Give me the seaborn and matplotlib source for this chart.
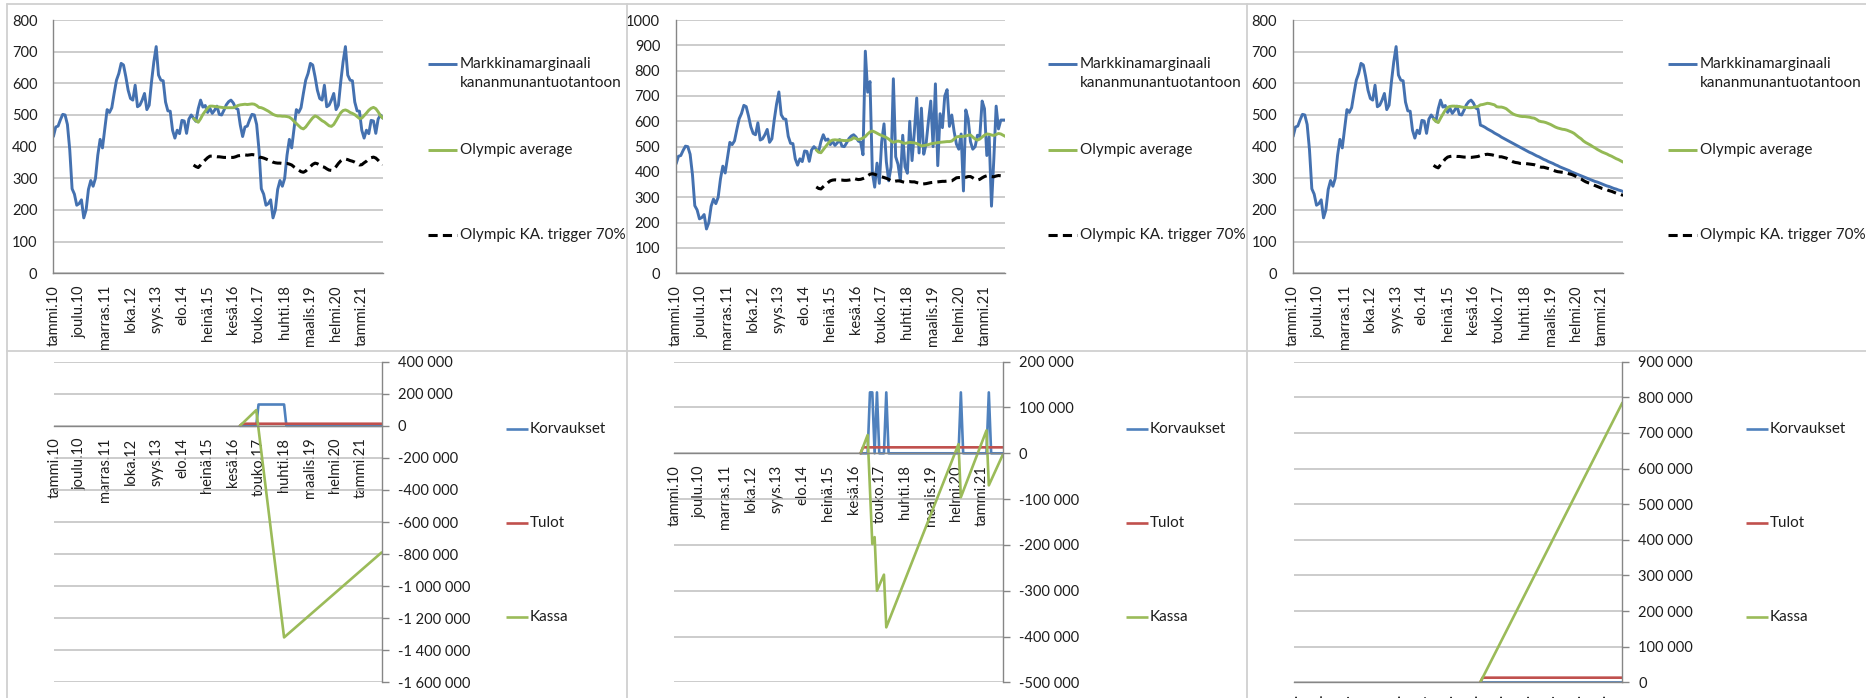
import numpy as np
import seaborn as sns
import matplotlib.pyplot as plt
from matplotlib.lines import Line2D
from matplotlib.ticker import FuncFormatter, MultipleLocator

# x-akseli: kuukaudet tammi.10 ... loka.21 (142 kk), nimiöt 11 kk välein
tick_pos = list(range(0, 133, 11))
tick_labels = ["tammi.10", "joulu.10", "marras.11", "loka.12", "syys.13", "elo.14", "heinä.15",
               "kesä.16", "touko.17", "huhti.18", "maalis.19", "helmi.20", "tammi.21"]
short_labels = ["t…", "j…", "m…", "l…", "s…", "e…", "h…", "k…", "t…", "h…", "m…", "h…", "t…"]

months = np.arange(142)
olymp_months = np.arange(60, 142)
fut_months = np.arange(80, 142)

# toteutunut markkinamarginaali tammi.10 - syys.16
hist = [432, 462, 465, 485, 502, 500, 470, 390, 267, 250,
        215, 220, 232, 175, 200, 265, 293, 275, 300, 373,
        423, 396, 457, 517, 508, 523, 568, 610, 631, 663,
        658, 621, 578, 552, 547, 594, 526, 531, 547, 568,
        517, 531, 605, 668, 716, 626, 610, 608, 541, 513,
        512, 452, 427, 452, 441, 483, 481, 442, 487, 500,
        490, 480, 520, 547, 525, 530, 508, 521, 505, 515,
        528, 502, 500, 515, 532, 542, 547, 538, 522, 518,
        468]

# skenaario 2: heiluva marginaali
volatile = [877, 715, 757, 400, 340, 435, 355, 520, 590, 440,
            365, 420, 768, 460, 430, 365, 545, 420, 395, 600,
            445, 560, 692, 475, 652, 470, 510, 600, 680, 500,
            748, 425, 630, 575, 700, 725, 580, 625, 560, 510,
            490, 550, 325, 645, 610, 520, 490, 500, 545, 540,
            680, 650, 465, 540, 265, 450, 660, 570, 605, 605,
            605]

# skenaario 3: laskeva marginaali
declining = [465, 461, 456, 452, 448, 443, 439, 435, 430, 426,
             422, 418, 414, 410, 406, 402, 398, 394, 390, 386,
             382, 379, 375, 371, 368, 364, 360, 357, 353, 350,
             347, 343, 340, 336, 333, 330, 327, 324, 320, 317,
             314, 311, 308, 305, 302, 299, 296, 293, 290, 288,
             285, 282, 279, 276, 274, 271, 268, 266, 263, 261,
             258]

marg1 = hist + hist[:61]
marg2 = hist + volatile
marg3 = hist + declining

avg1 = [489, 482, 477, 488, 502, 512, 522, 528, 528, 527,
        526, 525, 524, 523, 523, 523, 523, 523, 526, 530,
        532, 533, 534, 533, 534, 535, 534, 530, 524, 523,
        520, 516, 512, 507, 502, 499, 497, 497, 496, 496,
        495, 493, 488, 480, 473, 466, 459, 456, 462, 472,
        482, 491, 497, 494, 488, 482, 478, 472, 466, 464,
        470, 482, 495, 507, 514, 516, 513, 508, 505, 501,
        495, 489, 490, 498, 506, 515, 521, 524, 520, 510,
        498, 490]
trig1 = [342, 337, 334, 342, 351, 358, 365, 370, 370, 369,
         368, 368, 367, 366, 366, 366, 366, 366, 368, 371,
         372, 373, 374, 373, 374, 375, 374, 371, 367, 366,
         364, 361, 358, 355, 351, 349, 348, 348, 347, 347,
         347, 345, 342, 336, 331, 326, 321, 319, 323, 330,
         337, 344, 348, 346, 342, 337, 335, 330, 326, 325,
         329, 337, 347, 355, 360, 361, 359, 356, 354, 351,
         347, 342, 343, 349, 354, 361, 365, 367, 364, 357,
         349, 343]

avg2 = [487, 478, 476, 488, 500, 512, 522, 526, 527, 526,
        526, 525, 524, 524, 525, 528, 535, 532, 528, 530,
        534, 540, 550, 558, 562, 558, 553, 548, 544, 540,
        536, 530, 522, 517, 520, 522, 520, 515, 513, 515,
        517, 516, 515, 512, 508, 503, 504, 506, 508, 511,
        513, 514, 516, 517, 518, 519, 520, 520, 522, 530,
        538, 540, 540, 541, 542, 545, 546, 538, 530, 526,
        530, 538, 545, 550, 549, 546, 544, 548, 552, 550,
        545, 540]
trig2 = [341, 335, 333, 342, 350, 358, 365, 368, 369, 368,
         368, 368, 367, 367, 368, 370, 375, 372, 370, 371,
         374, 378, 385, 391, 393, 391, 387, 384, 381, 378,
         375, 371, 365, 362, 364, 365, 364, 361, 359, 361,
         362, 361, 361, 358, 356, 352, 353, 354, 356, 358,
         359, 360, 361, 362, 363, 363, 364, 364, 365, 371,
         377, 378, 378, 379, 379, 382, 382, 377, 371, 368,
         371, 377, 382, 385, 384, 382, 381, 384, 386, 385,
         382, 378]

avg3 = [487, 480, 476, 490, 503, 515, 524, 527, 528, 528,
        527, 527, 525, 524, 524, 523, 523, 524, 526, 527,
        532, 533, 535, 537, 536, 534, 532, 526, 525, 525,
        523, 520, 514, 508, 503, 500, 498, 496, 495, 495,
        494, 493, 491, 490, 486, 481, 479, 478, 476, 473,
        470, 466, 462, 459, 457, 455, 454, 452, 449, 446,
        442, 436, 430, 425, 418, 413, 409, 405, 400, 396,
        391, 387, 383, 380, 377, 373, 370, 366, 362, 359,
        355, 351]
trig3 = [341, 336, 333, 343, 352, 361, 367, 369, 370, 370,
         369, 369, 368, 367, 367, 366, 366, 367, 368, 369,
         372, 373, 375, 376, 375, 374, 372, 368, 368, 368,
         366, 364, 360, 356, 352, 350, 349, 347, 347, 347,
         346, 345, 344, 343, 340, 337, 335, 335, 333, 331,
         329, 326, 323, 321, 320, 319, 318, 316, 314, 312,
         309, 305, 301, 298, 293, 289, 286, 284, 280, 277,
         274, 271, 268, 266, 264, 261, 259, 256, 253, 251,
         249, 246]

# kassalaskelmat syys.16 alkaen
tulot = [0] + [13000] * 61
korv1 = [0] * 8 + [133000] * 12 + [0] * 42
korv2_months = [84, 85, 87, 91, 123, 135]
korv2 = [133000 if m in korv2_months else 0 for m in fut_months]
korv3 = [0] * 62

kassa1_x = [80, 87, 99, 141]
kassa1 = [0, 98000, -1320000, -790000]
kassa2_x = [80, 83, 85, 86, 87, 90, 91, 122, 123, 134, 135, 141]
kassa2 = [0, 40000, -198000, -183000, -300000, -265000, -380000, 20000, -96000, 50000, -70000, -3000]
kassa3_x = [80, 141]
kassa3 = [0, 785000]

BLUE = "#4471B0"
GREEN = "#94B955"
BLUE2 = "#4F81BD"
RED = "#C0504D"
GREEN2 = "#9BBB59"
GRID = "#BEBEBE"
AXC = "#868686"
TXT = "#1E1E1E"
TICK_FS = 10.5
LEG_FS = 11

sns.set_style("white")
plt.rcParams["font.family"] = ["Lato", "DejaVu Sans"]

W, H = 1866, 698
fig = plt.figure(figsize=(W / 100, H / 100), dpi=100)


def px_axes(x0, x1, y0, y1):
    return fig.add_axes([x0 / W, 1 - y1 / H, (x1 - x0) / W, (y1 - y0) / H])


def fig_line(x0, x1, y, color, lw=2.0, ls="-"):
    fig.add_artist(Line2D([x0 / W, x1 / W], [1 - y / H, 1 - y / H], transform=fig.transFigure,
                          color=color, lw=lw, ls=ls, solid_capstyle="butt", dash_capstyle="butt"))


def fig_text(x, y, s):
    fig.text(x / W, 1 - y / H, s, ha="left", va="center", fontsize=LEG_FS, color=TXT)


def top_chart(x0, x1, marg, avg, trig, ymax, lx):
    ax = px_axes(x0, x1, 20, 273.3)
    sns.lineplot(x=months, y=marg, ax=ax, color=BLUE, linewidth=2.1, estimator=None, sort=False)
    sns.lineplot(x=olymp_months, y=avg, ax=ax, color=GREEN, linewidth=2.1, estimator=None, sort=False)
    sns.lineplot(x=olymp_months, y=trig, ax=ax, color="black", linewidth=2.2, estimator=None,
                 sort=False, linestyle=(0, (3.0, 1.7)))
    ax.set_xlim(0, 141)
    ax.set_ylim(0, ymax)
    ax.yaxis.set_major_locator(MultipleLocator(100))
    ax.set_xticks(tick_pos)
    ax.set_xticklabels(tick_labels)
    ax.yaxis.grid(True, color=GRID, lw=1.1)
    ax.set_axisbelow(True)
    for s in ["top", "right"]:
        ax.spines[s].set_visible(False)
    for s in ["left", "bottom"]:
        ax.spines[s].set_color(AXC)
        ax.spines[s].set_linewidth(1.0)
    ax.tick_params(axis="both", direction="out", length=5, width=1, color=AXC,
                   labelsize=TICK_FS, labelcolor=TXT)
    ax.tick_params(axis="y", pad=6.5)
    ax.tick_params(axis="x", pad=3.5, labelrotation=90)
    ax.set_xlabel("")
    ax.set_ylabel("")
    # selite
    fig_line(lx, lx + 29, 64, BLUE, 2.1)
    fig_text(lx + 32, 64, "Markkinamarginaali")
    fig_text(lx + 32, 83, "kananmunantuotantoon")
    fig_line(lx, lx + 29, 150, GREEN, 2.1)
    fig_text(lx + 32, 150, "Olympic average")
    fig_line(lx, lx + 29, 235, "black", 2.2, (0, (3.0, 1.7)))
    fig_text(lx + 32, 235, "Olympic KA. trigger 70%")


def bottom_chart(x0, x1, korv, kx, kassa, ylo, yhi, step, labels, lx):
    ax = px_axes(x0, x1, 361.7, 682.3)
    sns.lineplot(x=fut_months, y=korv, ax=ax, color=BLUE2, linewidth=1.9, estimator=None, sort=False)
    sns.lineplot(x=fut_months, y=tulot, ax=ax, color=RED, linewidth=1.9, estimator=None, sort=False)
    sns.lineplot(x=kx, y=kassa, ax=ax, color=GREEN2, linewidth=1.9, estimator=None, sort=False)
    ax.spines["left"].set_visible(False)
    ax.spines["top"].set_visible(False)
    ax.spines["bottom"].set_position(("data", 0))
    for s in ["right", "bottom"]:
        ax.spines[s].set_color(AXC)
        ax.spines[s].set_linewidth(1.0)
    ax.set_xlim(0, 141)
    ax.set_ylim(ylo, yhi)
    ax.yaxis.set_major_locator(MultipleLocator(step))
    ax.yaxis.set_major_formatter(FuncFormatter(lambda v, p: f"{int(round(v)):,}".replace(",", " ")))
    ax.yaxis.tick_right()
    ax.set_xticks(tick_pos)
    ax.set_xticklabels(labels)
    ax.yaxis.grid(True, color=GRID, lw=1.1)
    ax.set_axisbelow(True)
    ax.tick_params(axis="both", direction="out", length=5, width=1, color=AXC,
                   labelsize=TICK_FS, labelcolor=TXT)
    ax.tick_params(axis="y", pad=6.5, right=True, left=False, labelright=True, labelleft=False)
    ax.tick_params(axis="x", pad=3.5, labelrotation=90)
    ax.set_xlabel("")
    ax.set_ylabel("")
    fig_line(lx, lx + 22, 429, BLUE2, 1.9)
    fig_text(lx + 24, 429, "Korvaukset")
    fig_line(lx, lx + 22, 523, RED, 1.9)
    fig_text(lx + 24, 523, "Tulot")
    fig_line(lx, lx + 22, 617, GREEN2, 1.9)
    fig_text(lx + 24, 617, "Kassa")


top_chart(53.4, 382.8, marg1, avg1, trig1, 800, 428)
top_chart(676.1, 1005.5, marg2, avg2, trig2, 1000, 1048)
top_chart(1293.1, 1623.2, marg3, avg3, trig3, 800, 1668)

bottom_chart(54.2, 381.6, korv1, kassa1_x, kassa1, -1600000, 400000, 200000, tick_labels, 506)
bottom_chart(674.2, 1002.8, korv2, kassa2_x, kassa2, -500000, 200000, 100000, tick_labels, 1126)
bottom_chart(1293.9, 1622.4, korv3, kassa3_x, kassa3, 0, 900000, 100000, short_labels, 1746)

# kaavioiden reunat
SEP = "#D0D0D0"
for x in [7, 627, 1247]:
    fig.add_artist(Line2D([x / W, x / W], [0, 1 - 4 / H], transform=fig.transFigure, color=SEP, lw=1.3))
for y in [4, 351]:
    fig.add_artist(Line2D([7 / W, 1], [1 - y / H, 1 - y / H], transform=fig.transFigure, color=SEP, lw=1.3))

fig.savefig("out.png", dpi=100)
